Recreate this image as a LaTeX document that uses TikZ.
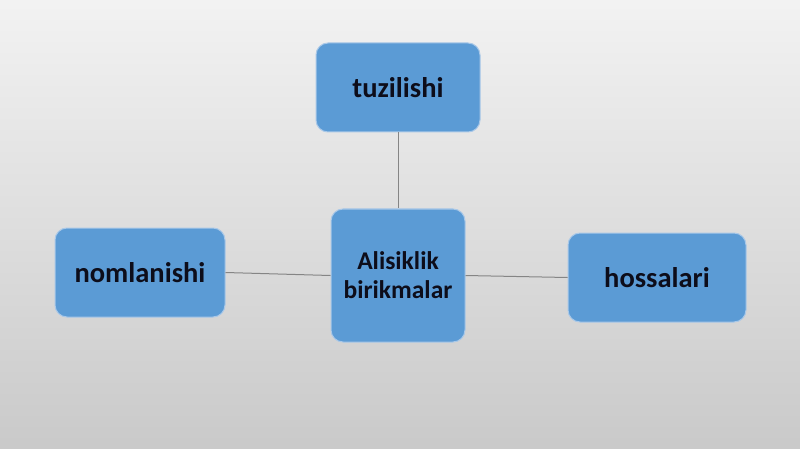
\documentclass[tikz,border=0pt]{standalone}
\usepackage{fontspec}
\setmainfont{Carlito}
\definecolor{boxblue}{HTML}{5B9BD5}
\definecolor{boxedge}{HTML}{A9C8E8}
\definecolor{txt}{HTML}{0D0D1A}
\definecolor{linegray}{HTML}{858585}
\begin{document}
\begin{tikzpicture}[x=1pt,y=-1pt,
  box/.style={rectangle, rounded corners=12pt, fill=boxblue, draw=boxedge, line width=1pt,
    text=txt, font=\bfseries\fontsize{28.5}{30}\selectfont, align=center, inner sep=0pt},
  link/.style={draw=linegray, line width=1pt}]
\shade[top color=black!5, bottom color=black!21] (0,0) rectangle (800,449);
\useasboundingbox (0,0) rectangle (800,449);
\node[box, minimum width=164pt, minimum height=89pt] (top) at (398,87.5) {tuzilishi};
\node[box, minimum width=134pt, minimum height=133pt, font=\bfseries\fontsize{25.5}{29}\selectfont] (mid) at (398,275.5) {Alisiklik\\birikmalar};
\node[box, minimum width=170pt, minimum height=89pt] (left) at (140,272.5) {nomlanishi};
\node[box, minimum width=178pt, minimum height=89pt] (right) at (657,277.5) {hossalari};
\draw[link] (top.south) -- (mid.north);
\draw[link] (left.east) -- (mid.west);
\draw[link] (mid.east) -- (right.west);
\end{tikzpicture}
\end{document}
